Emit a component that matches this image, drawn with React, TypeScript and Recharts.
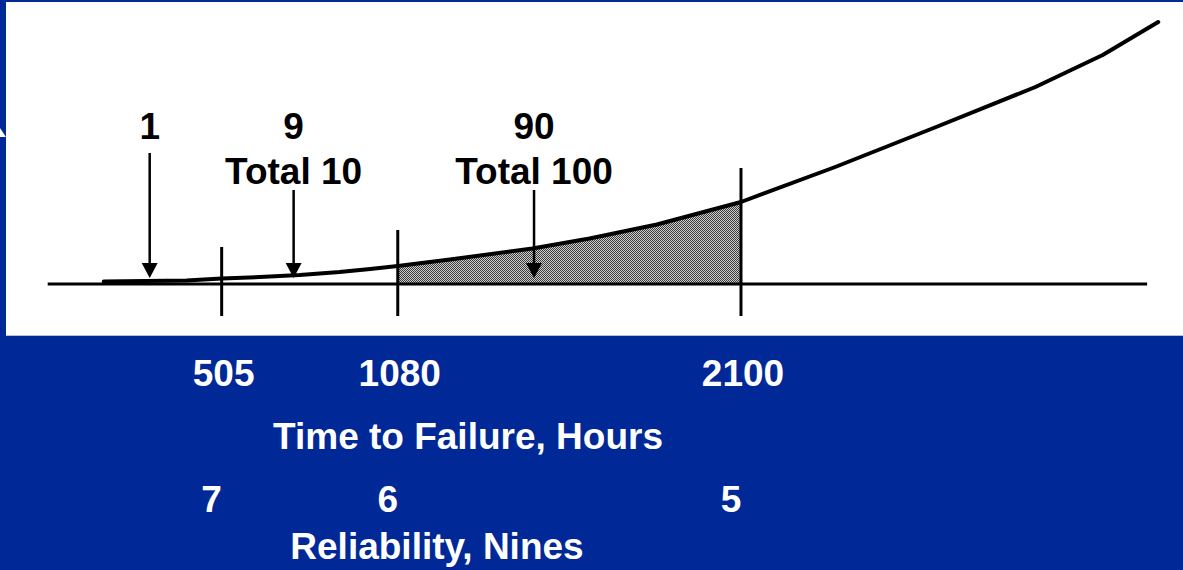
import React from 'react';
import { ComposedChart, Line, Area, XAxis, YAxis, ReferenceLine } from 'recharts';

// Failure-density curve: time to failure (hours) vs relative failure density
const hours = [120, 390, 505, 630, 760, 890, 990, 1080, 1235, 1480, 1650, 1850, 2100, 2380, 2680, 2975, 3175, 3340];
const density = [2.5, 3.5, 5.5, 7, 9, 12, 15, 18, 24.5, 35.5, 45.5, 59.5, 82, 117, 157, 197, 229, 262];

// Interval boundaries on the time axis and the reliability (nines) reached there
const hourTicks = [505, 1080, 2100];
const ninesTicks = [7, 6, 5];
// Height of each boundary marker above the baseline (density units)
const markerTops = [37, 54, 116];

// Failures counted in each interval, cumulative totals, and where each callout points
const failureCounts = [1, 9, 90];
const failureTotals = [null, 10, 100];
const calloutHours = [270, 740, 1485];

// Shaded interval
const shadeFrom = 1080;
const shadeTo = 2100;

const data = hours.map((h, i) => ({
  hours: h,
  density: density[i],
  shaded: h >= shadeFrom && h <= shadeTo ? density[i] : null,
}));

const FONT = '"Liberation Sans", Arial, Helvetica, sans-serif';
const BLUE = '#002896';

// The time axis is drawn slightly stretched beyond 1080 h, so build a
// piecewise-linear scale that Recharts can use like a d3 scale.
const SPLIT = 1080;
const STRETCH = 1.0987;
const warp = (h: number) => (h <= SPLIT ? h : SPLIT + (h - SPLIT) * STRETCH);

function makeHoursScale(): any {
  let dom: number[] = [0, 1];
  let rng: number[] = [0, 1];
  const scale: any = (h: number) => {
    const a = warp(dom[0]);
    const b = warp(dom[1]);
    return rng[0] + ((warp(Number(h)) - a) / (b - a)) * (rng[1] - rng[0]);
  };
  scale.domain = (d?: any[]) => {
    if (d === undefined) return dom.slice();
    dom = [Number(d[0]), Number(d[d.length - 1])];
    return scale;
  };
  scale.range = (r?: any[]) => {
    if (r === undefined) return rng.slice();
    rng = [Number(r[0]), Number(r[r.length - 1])];
    return scale;
  };
  scale.invert = (px: number) => {
    const a = warp(dom[0]);
    const b = warp(dom[1]);
    const w = a + ((px - rng[0]) / (rng[1] - rng[0])) * (b - a);
    return w <= SPLIT ? w : SPLIT + (w - SPLIT) / STRETCH;
  };
  scale.ticks = () => hourTicks.slice();
  scale.copy = () => makeHoursScale().domain(dom).range(rng);
  return scale;
}

const hoursScale = makeHoursScale();

const HoursTick = (props: any) => {
  const { x, y, payload } = props;
  const idx = hourTicks.indexOf(Number(payload.value));
  return (
    <g>
      <text x={x + 2} y={y + 52} textAnchor="middle" fill="#fff" fontSize={37} fontWeight={700} fontFamily={FONT}>
        {payload.value}
      </text>
      <text x={x - 10} y={y + 178} textAnchor="middle" fill="#fff" fontSize={37} fontWeight={700} fontFamily={FONT}>
        {idx >= 0 ? ninesTicks[idx] : ''}
      </text>
    </g>
  );
};

const makeCallout = (count: number, total: number | null) => (props: any) => {
  const { x1, y1, x2, y2 } = props;
  const head = 15;
  return (
    <g>
      <line x1={x1} y1={y1} x2={x2} y2={y2 - head + 1} stroke="#000" strokeWidth={2.5} />
      <polygon points={`${x2 - 8},${y2 - head} ${x2 + 8},${y2 - head} ${x2},${y2}`} fill="#000" />
      {total === null ? (
        <text x={x1} y={y1 - 14} textAnchor="middle" fontSize={37} fontWeight={700} fontFamily={FONT} fill="#000">
          {count}
        </text>
      ) : (
        <g>
          <text x={x1} y={y1 - 51} textAnchor="middle" fontSize={37} fontWeight={700} fontFamily={FONT} fill="#000">
            {count}
          </text>
          <text x={x1} y={y1 - 6} textAnchor="middle" fontSize={37} fontWeight={700} fontFamily={FONT} fill="#000">
            {`Total ${total}`}
          </text>
        </g>
      )}
    </g>
  );
};

export default function App() {
  return (
    <div style={{ position: 'absolute', left: 0, top: 0, width: 1183, height: 570, background: BLUE, overflow: 'hidden' }}>
      <div
        style={{
          position: 'absolute',
          left: 6,
          top: 2,
          width: 1177,
          height: 333,
          background: '#fff',
          borderBottom: '1px solid #b9c1da',
        }}
      />
      <svg width={8} height={12} style={{ position: 'absolute', left: 0, top: 127 }}>
        <polygon points="0,1 6,10 0,10" fill="#fff" />
      </svg>
      <div style={{ position: 'absolute', left: 0, top: 0 }}>
        <ComposedChart
          width={1183}
          height={570}
          data={data}
          margin={{ top: 4, right: 13, bottom: 206, left: 67 }}
        >
          <defs>
            <pattern id="dither" width={2} height={2} patternUnits="userSpaceOnUse">
              <rect x={0} y={0} width={2} height={2} fill="#cfcfcf" />
              <rect x={0} y={0} width={1} height={1} fill="#3a3a3a" />
              <rect x={1} y={1} width={1} height={1} fill="#3a3a3a" />
            </pattern>
          </defs>
          <XAxis
            dataKey="hours"
            type="number"
            scale={hoursScale}
            domain={[0, 3375]}
            allowDataOverflow
            ticks={hourTicks}
            interval={0}
            axisLine={false}
            tickLine={false}
            tickSize={0}
            tickMargin={0}
            height={30}
            tick={<HoursTick />}
          />
          <YAxis type="number" domain={[-50, 280]} allowDataOverflow hide />
          <Area
            dataKey="shaded"
            type="linear"
            fill="url(#dither)"
            fillOpacity={1}
            stroke="none"
            baseValue={0}
            connectNulls={false}
            isAnimationActive={false}
            dot={false}
            activeDot={false}
          />
          <ReferenceLine
            segment={[{ x: -63, y: 0 }, { x: 3307, y: 0 }]}
            stroke="#000"
            strokeWidth={3}
            ifOverflow="visible"
          />
          {hourTicks.map((h, i) => (
            <ReferenceLine
              key={`m${h}`}
              segment={[{ x: h, y: -32 }, { x: h, y: markerTops[i] }]}
              stroke="#000"
              strokeWidth={3}
              ifOverflow="visible"
            />
          ))}
          <Line
            dataKey="density"
            type="linear"
            stroke="#000"
            strokeWidth={4}
            strokeLinejoin="round"
            strokeLinecap="round"
            dot={false}
            activeDot={false}
            isAnimationActive={false}
          />
          {calloutHours.map((h, i) => (
            <ReferenceLine
              key={`c${h}`}
              segment={[
                { x: h, y: failureTotals[i] === null ? 131 : 94 },
                { x: h, y: 6 },
              ]}
              ifOverflow="visible"
              shape={makeCallout(failureCounts[i], failureTotals[i])}
            />
          ))}
          <text x={468} y={449} textAnchor="middle" fill="#fff" fontSize={37} fontWeight={700} fontFamily={FONT}>
            Time to Failure, Hours
          </text>
          <text x={437} y={559} textAnchor="middle" fill="#fff" fontSize={37} fontWeight={700} fontFamily={FONT}>
            Reliability, Nines
          </text>
        </ComposedChart>
      </div>
    </div>
  );
}
